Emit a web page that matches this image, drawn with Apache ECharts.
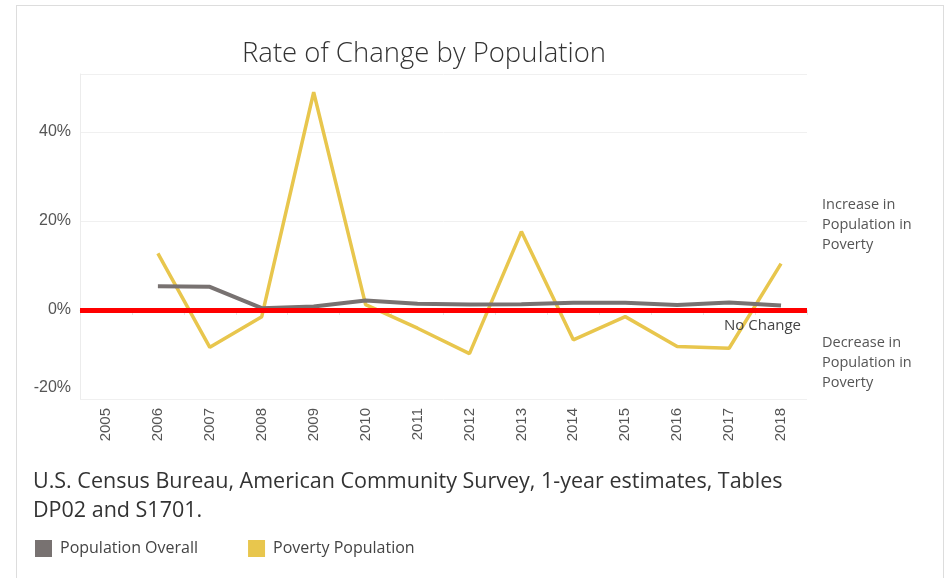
<!DOCTYPE html>
<html>
<head>
<meta charset="utf-8">
<script src="https://cdn.jsdelivr.net/npm/echarts@6/dist/echarts.min.js"></script>
<style>
  html, body { margin: 0; padding: 0; background: #fff; }
  #frame { position: absolute; left: 16px; top: 5px; width: 928px; height: 580px;
           border-left: 1px solid #ddd; border-top: 1px solid #ddd; border-right: 1px solid #ddd; box-sizing: border-box; }
  #chart { position: absolute; left: 0; top: 0; width: 948px; height: 578px; }
</style>
</head>
<body>
<div id="frame"></div>
<div id="chart"></div>
<script>
// Years on the x axis
const years = ['2005','2006','2007','2008','2009','2010','2011','2012','2013','2014','2015','2016','2017','2018'];
// Year-over-year change, percent
const populationOverall = [null, 5.3, 5.2, 0.4, 0.8, 2.1, 1.4, 1.2, 1.3, 1.6, 1.6, 1.1, 1.7, 1.0];
const povertyPopulation = [null, 12.7, -8.4, -1.5, 48.9, 1.2, -4.1, -9.8, 17.6, -6.7, -1.5, -8.2, -8.6, 10.4];
// Y tick values shown
const yTicks = [-20, 0, 20, 40];

const font = '"Open Sans", "Noto Sans", sans-serif';
const axisFont = '"Liberation Sans", Arial, sans-serif';
const grayColor = '#787271';
const goldColor = '#e8c64d';

const chart = echarts.init(document.getElementById('chart'), null, { renderer: 'canvas' });

chart.setOption({
  animation: false,
  backgroundColor: 'transparent',
  title: {
    text: 'Rate of Change by Population',
    left: 419, top: 35, textAlign: 'center',
    textStyle: { fontFamily: font, fontWeight: 300, fontSize: 27.5, color: '#333' }
  },
  legend: {
    left: 35, top: 540, padding: 0, itemWidth: 17, itemHeight: 17, itemGap: 50,
    icon: 'rect',
    textStyle: { fontFamily: font, fontSize: 16, color: '#444', padding: [0, 0, 0, 3] },
    data: [
      { name: 'Population Overall', itemStyle: { color: grayColor } },
      { name: 'Poverty Population', itemStyle: { color: goldColor } }
    ]
  },
  grid: { left: 80, right: 141, top: 74, bottom: 179, containLabel: false },
  xAxis: {
    type: 'category',
    data: years,
    boundaryGap: true,
    axisLine: { show: true, lineStyle: { color: '#ececec' } },
    axisTick: { show: true, length: 5, lineStyle: { color: '#e4e4e4' } },
    axisLabel: { rotate: 90, margin: 9, fontFamily: axisFont, fontSize: 15, color: '#555' },
    splitLine: { show: false }
  },
  yAxis: {
    type: 'value',
    min: -20, max: 53, interval: 20,
    axisLine: { show: true, lineStyle: { color: '#ececec' } },
    axisTick: { show: false },
    splitLine: { show: true, lineStyle: { color: '#f0f0f0' } },
    axisLabel: {
      margin: 9,
      fontFamily: axisFont, fontSize: 16, color: '#555',
      formatter: function (v) {
        if (yTicks.indexOf(v) < 0) return '';
        if (v === yTicks[0]) return '{lo|' + v + '%}';
        return v + '%';
      },
      rich: { lo: { padding: [0, 0, 22, 0], fontFamily: axisFont, fontSize: 16, color: '#555' } }
    }
  },
  series: [
    {
      name: 'Population Overall', type: 'line', data: populationOverall,
      showSymbol: false, symbol: 'none', z: 3,
      lineStyle: { color: grayColor, width: 4 },
      itemStyle: { color: grayColor }
    },
    {
      name: 'Poverty Population', type: 'line', data: povertyPopulation,
      showSymbol: false, symbol: 'none', z: 2,
      lineStyle: { color: goldColor, width: 3.5 },
      itemStyle: { color: goldColor },
      markLine: {
        silent: true, symbol: 'none',
        lineStyle: { color: '#ff0000', width: 5, type: 'solid' },
        label: {
          show: true, position: 'insideEndBottom', formatter: 'No Change',
          distance: [6, 8],
          fontFamily: font, fontSize: 15, color: '#444'
        },
        data: [{ yAxis: 0 }]
      }
    }
  ],
  graphic: [
    {
      type: 'text', left: 822, top: 195,
      style: { text: 'Increase in\nPopulation in\nPoverty', fontFamily: font, fontSize: 14.5, lineHeight: 20, fill: '#555' }
    },
    {
      type: 'text', left: 822, top: 333,
      style: { text: 'Decrease in\nPopulation in\nPoverty', fontFamily: font, fontSize: 14.5, lineHeight: 20, fill: '#555' }
    },
    {
      type: 'text', left: 33, top: 467,
      style: { text: 'U.S. Census Bureau, American Community Survey, 1-year estimates, Tables\nDP02 and S1701.', fontFamily: font, fontSize: 21.5, lineHeight: 29, fill: '#333' }
    }
  ]
});
</script>
</body>
</html>
